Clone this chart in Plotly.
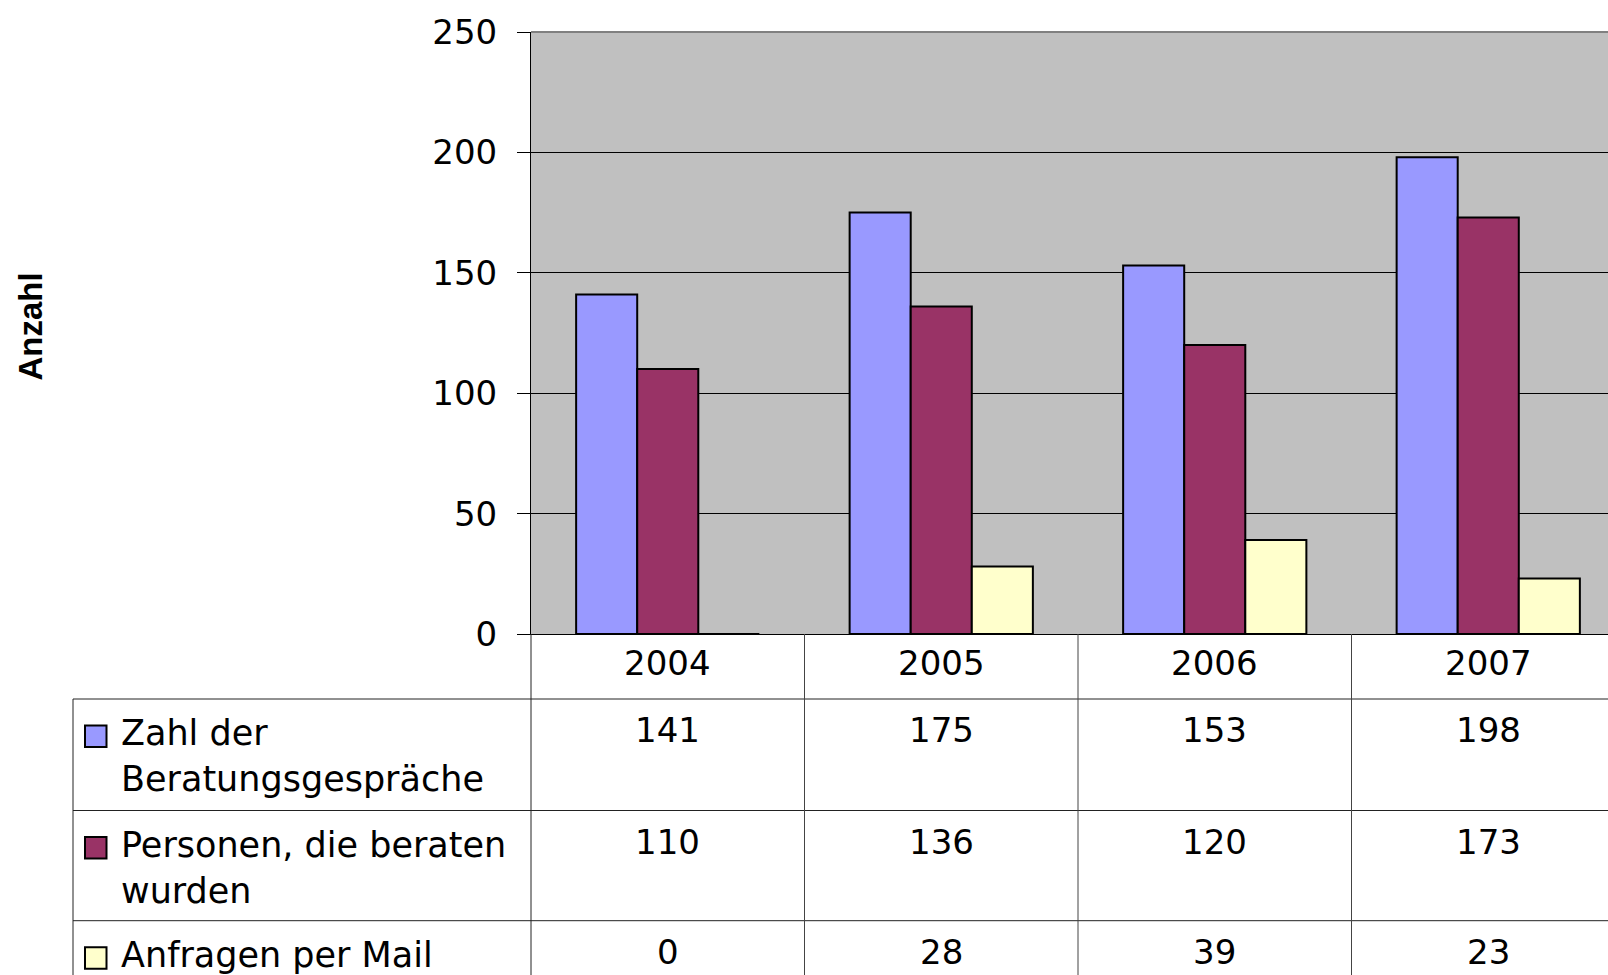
import plotly.graph_objects as go

# ---------------- data ----------------
categories = ["2004", "2005", "2006", "2007"]
zahl_beratungen = [141, 175, 153, 198]
personen_beraten = [110, 136, 120, 173]
anfragen_mail = [0, 28, 39, 23]
series_names = ["Zahl der\nBeratungsgespräche", "Personen, die beraten\nwurden", "Anfragen per Mail"]
y_tick_values = [0, 50, 100, 150, 200, 250]
axis_title = "Anzahl"

series_values = [zahl_beratungen, personen_beraten, anfragen_mail]
colors = ["#9999FF", "#993366", "#FFFFCC"]

# ---------------- layout geometry (pixels) ----------------
W, H = 1608, 975
PL, PR, PT, PB = 531, 1608, 32, 634   # plot area
L, R, T, B = PL, W - PR, PT, H - PB
plot_w = PR - PL
plot_h = PB - PT
cat_w = 273.5
x_end = -0.5 + plot_w / cat_w


def px(x):
    return (x - PL) / plot_w


def py(y):
    return (PB - y) / plot_h


FONT = "DejaVu Sans"
FS = 34

fig = go.Figure()
for name, vals, col in zip(series_names, series_values, colors):
    fig.add_trace(go.Bar(
        x=categories, y=vals, name=name.replace("\n", " "),
        marker=dict(color=col, line=dict(color="black", width=2)),
        showlegend=False,
    ))

fig.update_layout(
    width=W, height=H, autosize=False,
    margin=dict(l=L, r=R, t=T, b=B, pad=0),
    paper_bgcolor="white", plot_bgcolor="#C0C0C0",
    barmode="group", bargap=0.33, bargroupgap=0,
    showlegend=False,
)
fig.update_xaxes(
    type="category", range=[-0.5, x_end], showticklabels=False,
    showgrid=False, zeroline=False, showline=True, linecolor="black",
    linewidth=1, ticks="",
)
fig.update_yaxes(
    range=[0, 250], tickvals=y_tick_values, ticks="outside", ticklen=13,
    tickcolor="black", tickwidth=1, showgrid=True, gridcolor="black",
    gridwidth=1, showline=True, linecolor="black", linewidth=1,
    zeroline=False, tickfont=dict(family=FONT, size=FS, color="black"),
    ticklabelstandoff=13,
)

shapes = []
line_col = "#222222"
# top plot border (gray)
shapes.append(dict(type="line", xref="paper", yref="paper", x0=0, x1=1, y0=1, y1=1,
                   line=dict(color="#808080", width=2)))
# table horizontal lines
row_tops = [699, 810.5, 920.7]
for rt in row_tops:
    shapes.append(dict(type="line", xref="paper", yref="paper", x0=px(73), x1=1,
                       y0=py(rt), y1=py(rt), line=dict(color=line_col, width=1)))
# table left border
shapes.append(dict(type="line", xref="paper", yref="paper", x0=px(73), x1=px(73),
                   y0=py(row_tops[0]), y1=py(H), line=dict(color=line_col, width=1)))
# vertical separator at plot left extending into table
shapes.append(dict(type="line", xref="paper", yref="paper", x0=0, x1=0,
                   y0=0, y1=py(H), line=dict(color=line_col, width=1)))
# vertical separators between categories
for i in range(len(categories) - 1):
    shapes.append(dict(type="line", xref="x", yref="paper", x0=i + 0.5, x1=i + 0.5,
                       y0=0, y1=py(H), line=dict(color="#444444", width=1)))
# legend swatches
for rt, col in zip(row_tops, colors):
    shapes.append(dict(type="rect", xref="paper", yref="paper",
                       x0=px(85), x1=px(106.5), y0=py(rt + 26.5), y1=py(rt + 48),
                       fillcolor=col, line=dict(color="black", width=2)))

annotations = []
# header years
for i, c in enumerate(categories):
    annotations.append(dict(x=i, xref="x", y=py(663.4), yref="paper", text=c,
                            showarrow=False, xanchor="center", yanchor="middle",
                            font=dict(family=FONT, size=FS, color="black")))
# values
for rt, vals in zip(row_tops, series_values):
    for i, v in enumerate(vals):
        annotations.append(dict(x=i, xref="x", y=py(rt + 31), yref="paper", text=str(v),
                                showarrow=False, xanchor="center", yanchor="middle",
                                font=dict(family=FONT, size=FS, color="black")))
# series labels
for rt, name in zip(row_tops, series_names):
    for j, line in enumerate(name.split("\n")):
        annotations.append(dict(x=px(119), xref="paper", y=py(rt + 34 + 46 * j), yref="paper",
                                text=line, showarrow=False, xanchor="left", yanchor="middle",
                                font=dict(family=FONT, size=35, color="black")))
# axis title
annotations.append(dict(x=px(29.5), xref="paper", y=py(327), yref="paper", text="<b>%s</b>" % axis_title,
                        textangle=-90, showarrow=False, xanchor="center", yanchor="middle",
                        font=dict(family="Liberation Sans", size=33, color="black")))

fig.update_layout(shapes=shapes, annotations=annotations)
fig.write_html(
    "out.html",
    config={"displayModeBar": False},
    post_script="document.body.style.margin='0';document.documentElement.style.overflow='hidden';document.body.style.overflow='hidden';",
)
